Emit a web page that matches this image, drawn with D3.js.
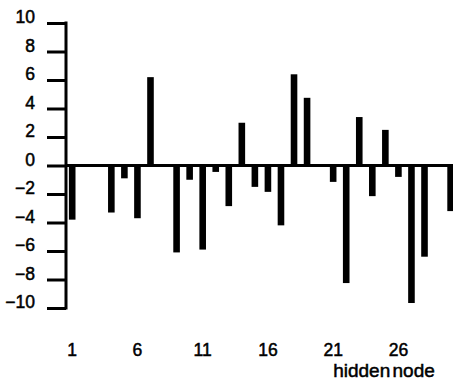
<!DOCTYPE html>
<html>
<head>
<meta charset="utf-8">
<script src="https://cdn.jsdelivr.net/npm/d3@7"></script>
<style>
  body { margin: 0; background: #fff; }
  svg { display: block; }
  text { font-family: "Liberation Sans", Arial, sans-serif; fill: #000; stroke: #000; stroke-width: 0.5px; }
</style>
</head>
<body>
<script>
const nodes = d3.range(1, 31);
const weights = [-3.8, 0.1, 0, -3.3, -0.9, -3.7, 6.2, 0, -6.1, -1.0,
  -5.9, -0.45, -2.85, 3.0, -1.5, -1.85, -4.2, 6.4, 4.75, 0,
  -1.15, -8.25, 3.4, -2.15, 2.5, -0.8, -9.65, -6.4, 0, -3.2];
const yTicks = [-10, -8, -6, -4, -2, 0, 2, 4, 6, 8, 10];
const xLabels = [1, 6, 11, 16, 21, 26];
const xTitle = 'hidden node';

const width = 453, height = 384;

const svg = d3.select('body')
  .append('svg')
  .attr('width', width)
  .attr('height', height);

const x = d3.scaleLinear().domain([1, 30]).range([72.2, 450.6]);
const y = d3.scaleLinear().domain([-10, 10]).range([308, 23]);

// bars
svg.append('g')
  .selectAll('rect')
  .data(nodes.filter((d, i) => weights[i] !== 0))
  .join('rect')
  .attr('x', d => x(d) - 3.3)
  .attr('width', 6.6)
  .attr('y', d => y(Math.max(0, weights[d - 1])))
  .attr('height', d => Math.abs(y(weights[d - 1]) - y(0)))
  .attr('fill', '#000');

// zero line
svg.append('line')
  .attr('x1', 66).attr('x2', width)
  .attr('y1', y(0)).attr('y2', y(0))
  .attr('stroke', '#000')
  .attr('stroke-width', 3);

// y axis
const yAxis = svg.append('g')
  .attr('transform', 'translate(66,0)')
  .call(d3.axisLeft(y).tickValues(yTicks).tickSize(19).tickSizeOuter(0).tickPadding(12));

yAxis.select('.domain')
  .attr('stroke-width', 3)
  .attr('d', `M0,${y(10) - 1.5}V${y(-10) + 1.5}`);
yAxis.selectAll('.tick line').attr('stroke-width', 3);
yAxis.selectAll('.tick text')
  .attr('font-size', 17.5)
  .attr('font-family', '"Liberation Sans", Arial, sans-serif')
  .attr('dy', '-0.02em');

// x labels
svg.append('g')
  .selectAll('text')
  .data(xLabels)
  .join('text')
  .attr('x', d => x(d))
  .attr('y', 356)
  .attr('text-anchor', 'middle')
  .attr('font-size', 17.5)
  .text(d => d);

svg.append('text')
  .attr('x', 384)
  .attr('y', 377)
  .attr('text-anchor', 'middle')
  .attr('font-size', 19)
  .attr('word-spacing', -3)
  .text(xTitle);
</script>
</body>
</html>
